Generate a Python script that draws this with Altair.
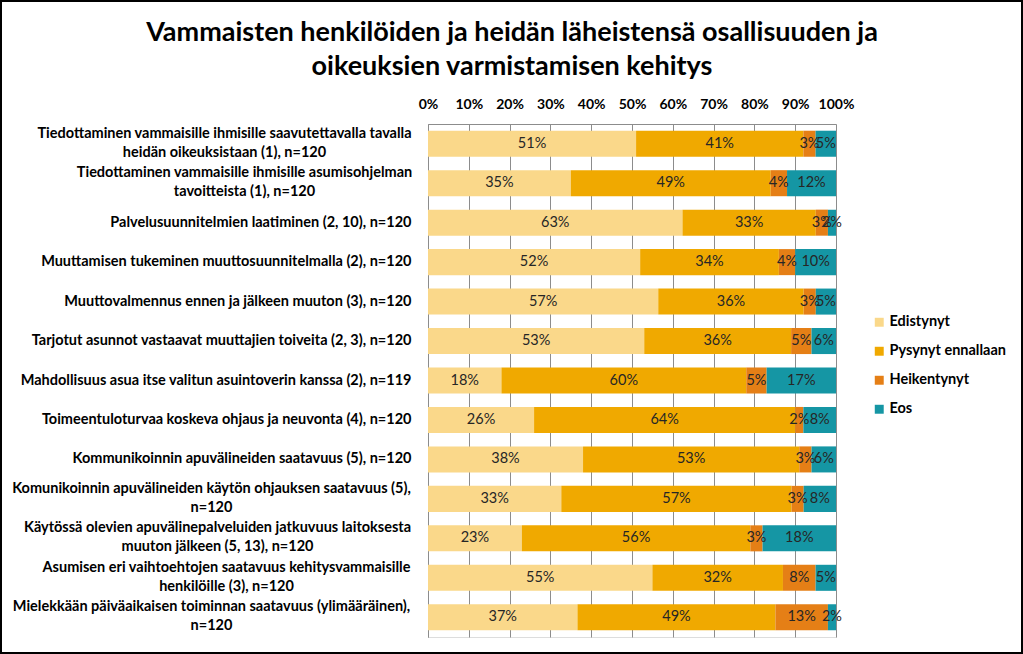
import altair as alt
import pandas as pd

title_lines = [
    "Vammaisten henkilöiden ja heidän läheistensä osallisuuden ja",
    "oikeuksien varmistamisen kehitys",
]

categories = [
    "Tiedottaminen vammaisille ihmisille saavutettavalla tavalla|heidän oikeuksistaan (1), n=120",
    "Tiedottaminen vammaisille ihmisille asumisohjelman|tavoitteista (1), n=120",
    "Palvelusuunnitelmien laatiminen (2, 10), n=120",
    "Muuttamisen tukeminen muuttosuunnitelmalla (2), n=120",
    "Muuttovalmennus ennen ja jälkeen muuton (3), n=120",
    "Tarjotut asunnot vastaavat muuttajien toiveita (2, 3), n=120",
    "Mahdollisuus asua itse valitun asuintoverin kanssa (2), n=119",
    "Toimeentuloturvaa koskeva ohjaus ja neuvonta (4), n=120",
    "Kommunikoinnin apuvälineiden saatavuus (5), n=120",
    "Komunikoinnin apuvälineiden käytön ohjauksen saatavuus (5),|n=120",
    "Käytössä olevien apuvälinepalveluiden jatkuvuus laitoksesta|muuton jälkeen (5, 13), n=120",
    "Asumisen eri vaihtoehtojen saatavuus kehitysvammaisille|henkilöille (3), n=120",
    "Mielekkään päiväaikaisen toiminnan saatavuus (ylimääräinen),|n=120",
]

series = ["Edistynyt", "Pysynyt ennallaan", "Heikentynyt", "Eos"]
edistynyt = [51, 35, 63, 52, 57, 53, 18, 26, 38, 33, 23, 55, 37]
pysynyt = [41, 49, 33, 34, 36, 36, 60, 64, 53, 57, 56, 32, 49]
heikentynyt = [3, 4, 3, 4, 3, 5, 5, 2, 3, 3, 3, 8, 13]
eos = [5, 12, 2, 10, 5, 6, 17, 8, 6, 8, 18, 5, 2]
colors = ["#FAD88A", "#F0A900", "#E57F16", "#1596A4"]

rows = []
for si, (name, vals) in enumerate(zip(series, [edistynyt, pysynyt, heikentynyt, eos])):
    for ci, (cat, v) in enumerate(zip(categories, vals)):
        rows.append({"cat": cat, "series": name, "order": si, "value": v})
df = pd.DataFrame(rows)

FONT = "Lato"
BASE_PAD = 17

# Two-line labels are centred under their (longest) first line, as in the
# original; half widths of the first lines (layout only, in pixels).
half_first_line = {0: 187, 1: 167, 9: 200, 10: 194, 11: 185, 12: 200}
pad_conditions = [
    {"test": "datum.value === " + repr(categories[i]), "value": BASE_PAD + h}
    for i, h in half_first_line.items()
]

y_enc = alt.Y(
    "cat:N", sort=categories, title=None,
    scale=alt.Scale(paddingInner=0.34, paddingOuter=0.17),
    axis=alt.Axis(
        labelExpr="split(datum.label, '|')",
        labelFont=FONT, labelFontWeight="bold", labelFontSize=14.5,
        labelColor="#000000", labelLimit=430,
        labelPadding={"condition": pad_conditions, "value": BASE_PAD},
        labelAlign={"condition": {"test": "indexof(datum.value, '|') >= 0", "value": "center"}, "value": "right"},
        labelLineHeight=19,
        labelOffset={"condition": {"test": "indexof(datum.value, '|') >= 0", "value": -10}, "value": 0},
        ticks=False, domainColor="#8c8c8c",
        domainWidth=1, grid=False,
    ),
)

base = alt.Chart(df).transform_joinaggregate(
    total="sum(value)", groupby=["cat"]
).transform_calculate(
    pct="datum.value / datum.total"
).transform_stack(
    stack="pct", groupby=["cat"], as_=["start", "end"],
    sort=[alt.SortField("order", order="ascending")]
).transform_calculate(
    mid="(datum.start + datum.end) / 2",
    label="datum.value + '%'"
)

bars = base.mark_bar().encode(
    x=alt.X(
        "start:Q", title=None,
        scale=alt.Scale(domain=[0, 1], nice=False),
        axis=alt.Axis(
            orient="top", format=".0%", values=[i / 10 for i in range(11)],
            labelFont=FONT, labelFontWeight="bold", labelFontSize=14,
            labelColor="#000000", ticks=False, tickSize=0, labelPadding=13,
            labelOverlap=False, labelFlush=False,
            grid=True, gridColor="#8c8c8c", gridWidth=1,
            domainColor="#8c8c8c", domainWidth=1,
        ),
    ),
    x2="end:Q",
    y=y_enc,
    color=alt.Color(
        "series:N", sort=series,
        scale=alt.Scale(domain=series, range=colors),
        legend=alt.Legend(
            title=None, orient="none", legendX=444, legendY=191,
            symbolType="square", symbolSize=80, symbolStrokeWidth=0,
            labelFont=FONT, labelFontWeight="bold", labelFontSize=14.5,
            labelColor="#000000", rowPadding=14, labelOffset=3,
        ),
    ),
    order="order:Q",
)

texts = base.mark_text(font=FONT, fontSize=14.5, color="#262626").encode(
    x="mid:Q",
    y=alt.Y("cat:N", sort=categories),
    text="label:N",
)

title = alt.Chart(pd.DataFrame({"a": [0]})).mark_text(
    text=title_lines, font=FONT, fontSize=27, fontWeight="bold",
    color="#000000", align="center", baseline="middle", lineHeight=34,
).encode(x=alt.value(84), y=alt.value(-91))

frame = alt.Chart(pd.DataFrame({"a": [0]})).mark_rect(
    fill=None, stroke="#000000", strokeWidth=2
).encode(
    x=alt.value(-427), x2=alt.value(594), y=alt.value(-123), y2=alt.value(529)
)

chart = alt.layer(bars, texts, title, frame).properties(
    width=408, height=513,
    padding={"left": 428, "top": 124, "right": 187, "bottom": 17},
    autosize=alt.AutoSizeParams(type="none"),
).configure_view(stroke=None).configure(background="#ffffff")

chart.save("out.html", embed_options={"renderer": "svg", "actions": False})
